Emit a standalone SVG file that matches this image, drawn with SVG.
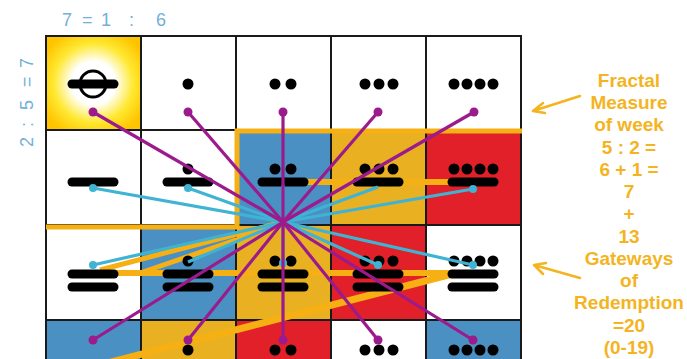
<svg xmlns="http://www.w3.org/2000/svg" width="687" height="359" viewBox="0 0 687 359">
<style>
.cell{stroke:none}
.b{fill:#4a90c2}.g{fill:#e9b022}.r{fill:#e2202a}.w{fill:#ffffff}
.grid{stroke:#1a1a1a;stroke-width:2;fill:none}
.bar{stroke:#000;stroke-width:9;stroke-linecap:round}
.dot{fill:#000}
.or{stroke:#f7b014;fill:none;stroke-linecap:butt}
.pu{stroke:#9c1b8c;stroke-width:3.2}
.cy{stroke:#3fb3d3;stroke-width:3.2}
.pud{fill:#9c1b8c}
.cyd{fill:#3fb3d3}
.lbl{fill:#72b0d8;font-family:"Liberation Sans",Arial,sans-serif;font-size:18px}
.rt{fill:#f4b41f;font-family:"Liberation Sans",Arial,sans-serif;font-size:19px;font-weight:bold;text-anchor:middle}
.arr{stroke:#f4b41f;stroke-width:2.5;fill:none;stroke-linecap:round;stroke-linejoin:round}
</style>
<defs>
<radialGradient id="glow" cx="0.5" cy="0.5" r="0.6">
<stop offset="0" stop-color="#ffffff"/>
<stop offset="0.38" stop-color="#ffffff"/>
<stop offset="0.7" stop-color="#ffe830"/>
<stop offset="1" stop-color="#ffc400"/>
</radialGradient>
</defs>
<rect width="687" height="359" fill="#ffffff"/>

<!-- labels -->
<text class="lbl"><tspan x="62" y="26">7</tspan><tspan x="82" y="26">=</tspan><tspan x="101" y="26">1</tspan><tspan x="129" y="26">:</tspan><tspan x="156" y="26">6</tspan></text>
<text class="lbl" transform="translate(33,0) rotate(-90)"><tspan x="-147" y="0">2</tspan><tspan x="-127" y="0">:</tspan><tspan x="-110" y="0">5</tspan><tspan x="-87" y="0">=</tspan><tspan x="-68" y="0">7</tspan></text>

<!-- cell backgrounds -->
<g id="cells">
<rect class="cell" x="46" y="36" width="95" height="94" fill="url(#glow)"/>
<rect class="cell b" x="236" y="130" width="95" height="95"/>
<rect class="cell g" x="331" y="130" width="95" height="95"/>
<rect class="cell r" x="426" y="130" width="95" height="95"/>
<rect class="cell b" x="141" y="225" width="95" height="95"/>
<rect class="cell g" x="236" y="225" width="95" height="95"/>
<rect class="cell r" x="331" y="225" width="95" height="95"/>
<rect class="cell b" x="46" y="320" width="95" height="45"/>
<rect class="cell g" x="141" y="320" width="95" height="45"/>
<rect class="cell r" x="236" y="320" width="95" height="45"/>
<rect class="cell b" x="426" y="320" width="95" height="45"/>
</g>

<g id="grid" class="grid">
<rect x="46" y="36" width="475" height="340"/>
<line x1="141" y1="36" x2="141" y2="365"/>
<line x1="236" y1="36" x2="236" y2="365"/>
<line x1="331" y1="36" x2="331" y2="365"/>
<line x1="426" y1="36" x2="426" y2="365"/>
<line x1="46" y1="130" x2="521" y2="130"/>
<line x1="46" y1="225" x2="521" y2="225"/>
<line x1="46" y1="320" x2="521" y2="320"/>
</g>

<!-- orange connectors (under glyphs) -->
<g id="orange-connectors">
<polyline class="or" stroke-width="5" points="46,227 237,227 237,131 522,131"/>
<line class="or" stroke-width="6" x1="290" y1="182" x2="462" y2="182"/>
<line class="or" stroke-width="6" x1="100" y1="273" x2="456" y2="273"/>
<line class="or" stroke-width="7" x1="456" y1="273" x2="88" y2="368"/>
<line class="or" stroke-width="5" x1="283" y1="222" x2="100" y2="270"/>
<line class="or" stroke-width="5" x1="283" y1="224" x2="140" y2="273"/>
</g>

<!-- row 1 -->
<g id="n0">
<line class="bar" x1="72" y1="84" x2="114" y2="84" stroke-width="7"/>
<circle cx="93" cy="84" r="13" fill="none" stroke="#000" stroke-width="3"/>
</g>
<g id="n1"><circle class="dot" cx="188" cy="84" r="5.5"/></g>
<g id="n2"><circle class="dot" cx="275" cy="84" r="5.5"/><circle class="dot" cx="291" cy="84" r="5.5"/></g>
<g id="n3"><circle class="dot" cx="365" cy="84" r="5.5"/><circle class="dot" cx="379" cy="84" r="5.5"/><circle class="dot" cx="393" cy="84" r="5.5"/></g>
<g id="n4"><circle class="dot" cx="454" cy="84" r="5.5"/><circle class="dot" cx="467" cy="84" r="5.5"/><circle class="dot" cx="480" cy="84" r="5.5"/><circle class="dot" cx="493" cy="84" r="5.5"/></g>

<!-- row 2 -->
<g id="n5"><line class="bar" x1="72" y1="182" x2="114" y2="182"/></g>
<g id="n6"><circle class="dot" cx="188" cy="169" r="5.5"/><line class="bar" x1="167" y1="182" x2="209" y2="182"/></g>
<g id="n7"><circle class="dot" cx="275" cy="169" r="5.5"/><circle class="dot" cx="291" cy="169" r="5.5"/><line class="bar" x1="262" y1="182" x2="304" y2="182"/></g>
<g id="n8"><circle class="dot" cx="365" cy="169" r="5.5"/><circle class="dot" cx="379" cy="169" r="5.5"/><circle class="dot" cx="393" cy="169" r="5.5"/><line class="bar" x1="357" y1="182" x2="399" y2="182"/></g>
<g id="n9"><circle class="dot" cx="454" cy="169" r="5.5"/><circle class="dot" cx="467" cy="169" r="5.5"/><circle class="dot" cx="480" cy="169" r="5.5"/><circle class="dot" cx="493" cy="169" r="5.5"/><line class="bar" x1="452" y1="182" x2="494" y2="182"/></g>

<!-- row 3 -->
<g id="n10"><line class="bar" x1="72" y1="274" x2="114" y2="274"/><line class="bar" x1="72" y1="287" x2="114" y2="287"/></g>
<g id="n11"><circle class="dot" cx="188" cy="261" r="5.5"/><line class="bar" x1="167" y1="274" x2="209" y2="274"/><line class="bar" x1="167" y1="287" x2="209" y2="287"/></g>
<g id="n12"><circle class="dot" cx="275" cy="261" r="5.5"/><circle class="dot" cx="291" cy="261" r="5.5"/><line class="bar" x1="262" y1="274" x2="304" y2="274"/><line class="bar" x1="262" y1="287" x2="304" y2="287"/></g>
<g id="n13"><circle class="dot" cx="365" cy="261" r="5.5"/><circle class="dot" cx="379" cy="261" r="5.5"/><circle class="dot" cx="393" cy="261" r="5.5"/><line class="bar" x1="357" y1="274" x2="399" y2="274"/><line class="bar" x1="357" y1="287" x2="399" y2="287"/></g>
<g id="n14"><circle class="dot" cx="454" cy="261" r="5.5"/><circle class="dot" cx="467" cy="261" r="5.5"/><circle class="dot" cx="480" cy="261" r="5.5"/><circle class="dot" cx="493" cy="261" r="5.5"/><line class="bar" x1="452" y1="274" x2="494" y2="274"/><line class="bar" x1="452" y1="287" x2="494" y2="287"/></g>

<!-- row 4 -->
<g id="n15"></g>
<g id="n16"><circle class="dot" cx="188" cy="350" r="5.5"/></g>
<g id="n17"><circle class="dot" cx="275" cy="350" r="5.5"/><circle class="dot" cx="291" cy="350" r="5.5"/></g>
<g id="n18"><circle class="dot" cx="365" cy="350" r="5.5"/><circle class="dot" cx="379" cy="350" r="5.5"/><circle class="dot" cx="393" cy="350" r="5.5"/></g>
<g id="n19"><circle class="dot" cx="454" cy="350" r="5.5"/><circle class="dot" cx="467" cy="350" r="5.5"/><circle class="dot" cx="480" cy="350" r="5.5"/><circle class="dot" cx="493" cy="350" r="5.5"/></g>

<!-- cyan & purple connectors -->
<g id="connectors">
<line class="cy" x1="283" y1="222" x2="93" y2="188"/>
<line class="cy" x1="283" y1="222" x2="188" y2="188"/>
<line class="cy" x1="283" y1="222" x2="283" y2="185"/>
<line class="cy" x1="283" y1="222" x2="378" y2="187"/>
<line class="cy" x1="283" y1="222" x2="473" y2="189"/>
<line class="cy" x1="283" y1="222" x2="93" y2="265"/>
<line class="cy" x1="283" y1="222" x2="188" y2="262"/>
<line class="cy" x1="283" y1="222" x2="283" y2="263"/>
<line class="cy" x1="283" y1="222" x2="378" y2="265"/>
<line class="cy" x1="283" y1="222" x2="473" y2="265"/>
<circle class="cyd" cx="93" cy="188" r="4"/>
<circle class="cyd" cx="188" cy="188" r="4"/>
<circle class="cyd" cx="473" cy="189" r="4"/>
<circle class="cyd" cx="93" cy="265" r="4"/>
<circle class="cyd" cx="283" cy="263" r="4"/>
<circle class="cyd" cx="378" cy="265" r="4"/>
<circle class="cyd" cx="473" cy="265" r="4"/>

<line class="pu" x1="283" y1="222" x2="93" y2="112"/>
<line class="pu" x1="283" y1="222" x2="188" y2="112"/>
<line class="pu" x1="283" y1="222" x2="283" y2="112"/>
<line class="pu" x1="283" y1="222" x2="378" y2="112"/>
<line class="pu" x1="283" y1="222" x2="474" y2="112"/>
<line class="pu" x1="283" y1="222" x2="93" y2="340"/>
<line class="pu" x1="283" y1="222" x2="188" y2="340"/>
<line class="pu" x1="283" y1="222" x2="283" y2="340"/>
<line class="pu" x1="283" y1="222" x2="378" y2="340"/>
<line class="pu" x1="283" y1="222" x2="473" y2="340"/>
<circle class="pud" cx="93" cy="112" r="4.5"/>
<circle class="pud" cx="188" cy="112" r="4.5"/>
<circle class="pud" cx="283" cy="112" r="4.5"/>
<circle class="pud" cx="378" cy="112" r="4.5"/>
<circle class="pud" cx="474" cy="112" r="4.5"/>
<circle class="pud" cx="93" cy="340" r="4.5"/>
<circle class="pud" cx="188" cy="340" r="4.5"/>
<circle class="pud" cx="283" cy="340" r="4.5"/>
<circle class="pud" cx="378" cy="340" r="4.5"/>
<circle class="pud" cx="473" cy="340" r="4.5"/>

<!-- annotation arrows -->
<path class="arr" d="M580 96 L533 111 M533 111 L543 103 M533 111 L545 113"/>
<path class="arr" d="M580 278 L534 265 M534 265 L546 263 M534 265 L543 274"/>
</g>

<g id="annotation">
<text class="rt" x="629" y="87">Fractal</text>
<text class="rt" x="629" y="109">Measure</text>
<text class="rt" x="629" y="131">of week</text>
<text class="rt" x="629" y="154">5 : 2 =</text>
<text class="rt" x="629" y="176">6 + 1 =</text>
<text class="rt" x="629" y="198">7</text>
<text class="rt" x="629" y="220">+</text>
<text class="rt" x="629" y="243">13</text>
<text class="rt" x="629" y="265">Gateways</text>
<text class="rt" x="629" y="287">of</text>
<text class="rt" x="629" y="309">Redemption</text>
<text class="rt" x="629" y="332">=20</text>
<text class="rt" x="629" y="354">(0-19)</text>
</g>
</svg>
